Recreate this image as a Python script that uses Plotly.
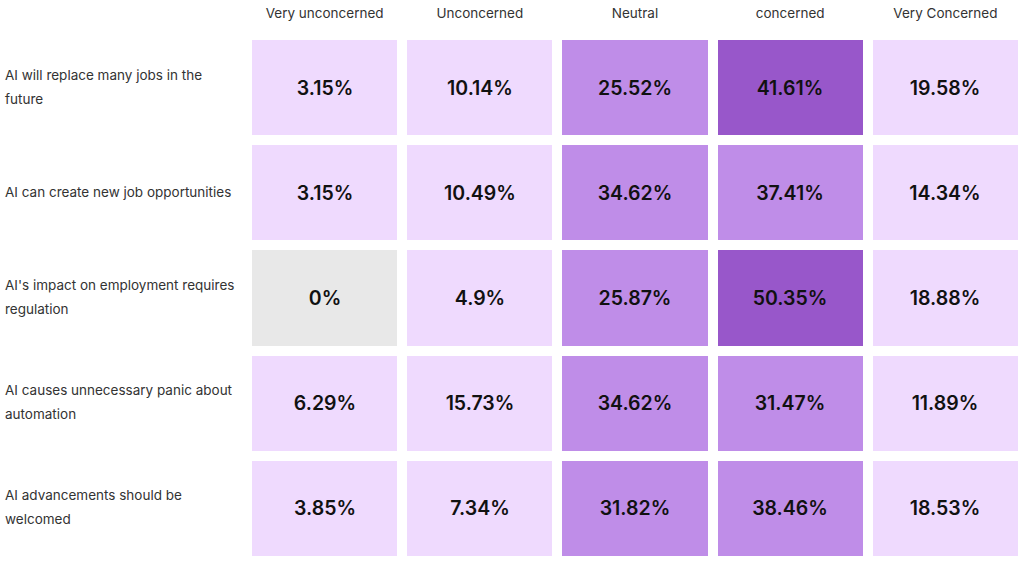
import plotly.graph_objects as go

columns = ["Very unconcerned", "Unconcerned", "Neutral", "concerned", "Very Concerned"]
statements = [
    "AI will replace many jobs in the future",
    "AI can create new job opportunities",
    "AI's impact on employment requires regulation",
    "AI causes unnecessary panic about automation",
    "AI advancements should be welcomed",
]
label_lines = [
    ["AI will replace many jobs in the", "future"],
    ["AI can create new job opportunities"],
    ["AI's impact on employment requires", "regulation"],
    ["AI causes unnecessary panic about", "automation"],
    ["AI advancements should be", "welcomed"],
]
values = [
    [3.15, 10.14, 25.52, 41.61, 19.58],
    [3.15, 10.49, 34.62, 37.41, 14.34],
    [0, 4.9, 25.87, 50.35, 18.88],
    [6.29, 15.73, 34.62, 31.47, 11.89],
    [3.85, 7.34, 31.82, 38.46, 18.53],
]
bin_edges = [20, 40]
bin_colors = ["#E8E8E8", "#EFDAFE", "#BF8DE8", "#9857CA"]

W, H = 1024, 561
ML, MR, MT, MB = 247, 1, 35, 0


def bin_of(v):
    if v == 0:
        return 0
    b = 1
    for e in bin_edges:
        if v >= e:
            b += 1
    return b


z = [[bin_of(v) for v in row] for row in values]
text = [[f"{v:g}%" for v in row] for row in values]

n = len(bin_colors)
colorscale = []
for i, c in enumerate(bin_colors):
    colorscale.append([i / n, c])
    colorscale.append([(i + 1) / n, c])

fig = go.Figure(
    go.Heatmap(
        z=z,
        x=columns,
        y=statements,
        text=text,
        texttemplate="%{text}",
        textfont=dict(family="Inter", size=19.5, color="#111111", weight=600),
        colorscale=colorscale,
        zmin=-0.5,
        zmax=n - 0.5,
        showscale=False,
        xgap=10,
        ygap=10,
        hovertemplate="%{y}<br>%{x}: %{text}<extra></extra>",
    )
)

label_x = -(ML - 3) / (W - ML - MR)
annotations = []
for stmt, lines in zip(statements, label_lines):
    k = len(lines)
    for j, line in enumerate(lines):
        shift = (k - 1) * 12 - j * 24
        annotations.append(
            dict(
                x=label_x, xref="paper", y=stmt, yref="y",
                text=line, showarrow=False, xanchor="left", yanchor="middle",
                yshift=shift + 1,
                font=dict(family="Inter", size=13.5, color="#333333"),
            )
        )

fig.update_layout(
    width=W,
    height=H,
    margin=dict(l=ML, r=MR, t=MT, b=MB, autoexpand=False),
    paper_bgcolor="white",
    plot_bgcolor="white",
    annotations=annotations,
    xaxis=dict(side="top", showgrid=False, zeroline=False, ticks="", automargin=False,
               tickfont=dict(family="Inter", size=13.5, color="#333333"), ticklabelstandoff=13),
    yaxis=dict(autorange="reversed", showgrid=False, zeroline=False,
               showticklabels=False, ticks="", automargin=False),
)

fig.write_html(
    "out.html",
    config={"displayModeBar": False},
    post_script="document.body.style.margin='0';document.body.style.overflow='hidden';",
)
